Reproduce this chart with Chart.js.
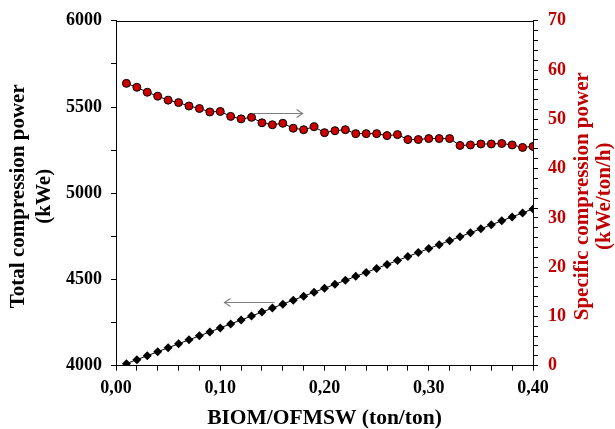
<!DOCTYPE html>
<html>
<head>
<meta charset="utf-8">
<script src="https://cdn.jsdelivr.net/npm/chart.js@4/dist/chart.umd.min.js"></script>
<style>
  html, body { margin: 0; padding: 0; background: #ffffff; }
  #wrap { width: 615px; height: 429px; }
</style>
</head>
<body>
<div id="wrap"><canvas id="c" width="615" height="429"></canvas></div>
<script>
// ---- Data ----
const ratio = [0.01,0.02,0.03,0.04,0.05,0.06,0.07,0.08,0.09,0.10,
               0.11,0.12,0.13,0.14,0.15,0.16,0.17,0.18,0.19,0.20,
               0.21,0.22,0.23,0.24,0.25,0.26,0.27,0.28,0.29,0.30,
               0.31,0.32,0.33,0.34,0.35,0.36,0.37,0.38,0.39,0.40];
const totalPower = [4012,4035,4058,4081,4104,4127,4150,4173,4196,4219,
                    4242,4265,4288,4311,4334,4357,4380,4403,4426,4449,
                    4472,4495,4518,4541,4564,4587,4610,4633,4656,4679,
                    4702,4725,4748,4771,4794,4817,4840,4863,4886,4909];
const specificPower = [57.3,56.5,55.5,54.7,53.9,53.4,52.7,52.2,51.5,51.6,
                       50.6,50.1,50.4,49.3,48.9,49.2,48.2,47.9,48.5,47.3,
                       47.7,47.9,47.1,47.1,47.1,46.7,46.9,45.9,45.9,46.1,
                       46.1,46.1,44.7,44.8,45.0,45.0,45.1,44.8,44.3,44.5];
// arrows: [xFrom, xTo, yLeftAxisValue]
const arrowRight = [0.131, 0.179, 5468];
const arrowLeft  = [0.152, 0.104, 4367];

const xTitle = 'BIOM/OFMSW (ton/ton)';
const yLeftTitle = ['Total compression power', '(kWe)'];
const yRightTitle = ['Specific compression power', '(kWe/ton/h)'];

const RED = '#c00000';
const FONT = "'Liberation Serif', 'Times New Roman', serif";

const ptsTotal = ratio.map((x, i) => ({ x: x, y: totalPower[i] }));
const ptsSpec = ratio.map((x, i) => ({ x: x, y: specificPower[i] }));

const extras = {
  id: 'extras',
  afterDraw(chart) {
    const ctx = chart.ctx;
    const a = chart.chartArea;
    const xs = chart.scales.x, yl = chart.scales.y;
    ctx.save();
    // top border
    ctx.strokeStyle = '#000';
    ctx.lineWidth = 1;
    ctx.beginPath();
    ctx.moveTo(a.left, Math.round(a.top) + 0.5);
    ctx.lineTo(a.right, Math.round(a.top) + 0.5);
    ctx.stroke();
    // arrows
    function arrow(spec) {
      const x1 = xs.getPixelForValue(spec[0]);
      const x2 = xs.getPixelForValue(spec[1]);
      const y = Math.round(yl.getPixelForValue(spec[2])) + 0.5;
      const dir = x2 > x1 ? 1 : -1;
      ctx.strokeStyle = '#808080';
      ctx.lineWidth = 1.2;
      ctx.beginPath();
      ctx.moveTo(x1, y); ctx.lineTo(x2, y);
      ctx.moveTo(x2 - dir * 6, y - 4); ctx.lineTo(x2, y); ctx.lineTo(x2 - dir * 6, y + 4);
      ctx.stroke();
    }
    arrow(arrowRight);
    arrow(arrowLeft);
    // y titles (both read bottom-to-top)
    const cy = (a.top + a.bottom) / 2 + 3;
    ctx.font = 'bold 21px ' + FONT;
    ctx.textAlign = 'center';
    ctx.textBaseline = 'middle';
    function vtext(lines, xPositions, color) {
      lines.forEach((t, i) => {
        ctx.save();
        ctx.translate(xPositions[i], cy);
        ctx.rotate(-Math.PI / 2);
        ctx.fillStyle = color;
        ctx.fillText(t, 0, 0);
        ctx.restore();
      });
    }
    vtext(yLeftTitle, [19, 45], '#000');
    vtext(yRightTitle, [583, 605], RED);
    ctx.restore();
  }
};

new Chart(document.getElementById('c'), {
  type: 'line',
  data: {
    datasets: [
      {
        label: 'Total',
        data: ptsTotal,
        yAxisID: 'y',
        borderColor: '#000',
        borderWidth: 1,
        backgroundColor: '#000',
        pointStyle: 'rectRot',
        pointRadius: 4.5,
        pointBorderWidth: 0,
        pointBackgroundColor: '#000',
        tension: 0
      },
      {
        label: 'Specific',
        data: ptsSpec,
        yAxisID: 'y2',
        borderColor: '#000',
        borderWidth: 1,
        pointStyle: 'circle',
        pointRadius: 4,
        pointBorderWidth: 1,
        pointBorderColor: '#000',
        pointBackgroundColor: '#cc0000',
        tension: 0
      }
    ]
  },
  options: {
    responsive: false,
    animation: false,
    layout: { padding: { left: 57, right: 39, top: 5, bottom: 0 } },
    plugins: { legend: { display: false }, tooltip: { enabled: false } },
    scales: {
      x: {
        type: 'linear',
        min: 0, max: 0.4,
        border: { display: true, color: '#000', width: 1 },
        grid: { drawOnChartArea: false, drawTicks: true, tickLength: 5, color: '#000' },
        ticks: {
          stepSize: 0.02,
          autoSkip: false,
          maxRotation: 0,
          padding: 8,
          color: '#000',
          font: { family: FONT, size: 18, weight: 'bold', lineHeight: 1.1 },
          callback: (v) => {
            const t = v * 10;
            return Math.abs(t - Math.round(t)) < 1e-6 ? v.toFixed(2).replace('.', ',') : '';
          }
        },
        title: {
          display: true, text: xTitle, color: '#000',
          font: { family: FONT, size: 21.5, weight: 'bold', lineHeight: 1.0 },
          padding: { top: 1, bottom: 0 }
        }
      },
      y: {
        position: 'left',
        min: 4000, max: 6000,
        border: { display: true, color: '#000', width: 1 },
        grid: { drawOnChartArea: false, drawTicks: true, tickLength: 5, color: '#000' },
        ticks: {
          stepSize: 250,
          autoSkip: false,
          padding: 9,
          color: '#000',
          font: { family: FONT, size: 18, weight: 'bold' },
          callback: (v) => (v % 500 === 0 ? String(v) : '')
        }
      },
      y2: {
        position: 'right',
        min: 0, max: 70,
        border: { display: true, color: '#000', width: 1 },
        grid: { drawOnChartArea: false, drawTicks: true, tickLength: 5, color: '#000' },
        ticks: {
          stepSize: 2,
          autoSkip: false,
          padding: 10,
          color: RED,
          font: { family: FONT, size: 18, weight: 'bold' },
          callback: (v) => (v % 10 === 0 ? String(v) : '')
        }
      }
    }
  },
  plugins: [extras]
});
</script>
</body>
</html>
